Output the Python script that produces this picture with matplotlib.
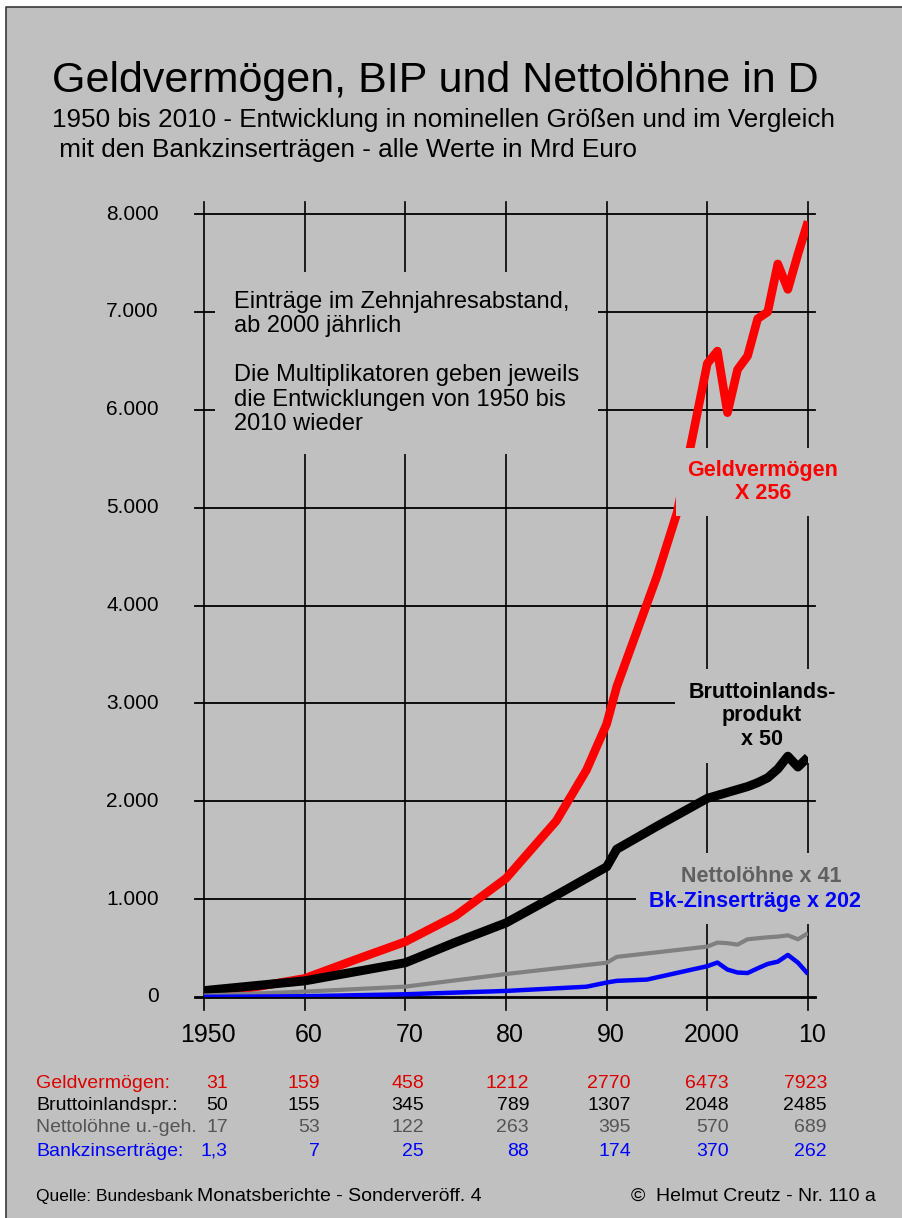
import matplotlib
matplotlib.use("Agg")
import matplotlib.pyplot as plt
from matplotlib.patches import Rectangle
from matplotlib.lines import Line2D

plt.rcParams['font.family'] = ['Liberation Sans', 'DejaVu Sans']

W, H = 903, 1218
BG = '#c0c0c0'

# Kurven (Mrd Euro)
gv_years = [1950, 1955, 1960, 1965, 1970, 1975, 1980, 1985, 1988, 1990, 1991, 1995, 1997,
            2000, 2001, 2002, 2003, 2004, 2005, 2006, 2007, 2008, 2009, 2010]
gv_values = [40, 100, 190, 380, 565, 830, 1212, 1800, 2320, 2790, 3170, 4300, 4950,
             6473, 6600, 5970, 6410, 6550, 6930, 7000, 7490, 7230, 7590, 7923]

bip_years = [1950, 1960, 1970, 1975, 1980, 1985, 1990, 1991, 1995,
             2000, 2001, 2002, 2003, 2004, 2005, 2006, 2007, 2008, 2009, 2010]
bip_values = [65, 165, 350, 560, 757, 1040, 1330, 1510, 1745,
              2030, 2060, 2090, 2120, 2150, 2190, 2240, 2330, 2460, 2350, 2450]

lohn_years = [1950, 1960, 1970, 1980, 1990, 1991,
              2000, 2001, 2002, 2003, 2004, 2005, 2006, 2007, 2008, 2009, 2010]
lohn_values = [15, 55, 106, 235, 350, 410,
               515, 556, 550, 535, 590, 600, 610, 617, 630, 590, 651]

zins_years = [1950, 1960, 1970, 1980, 1988, 1990, 1991, 1994,
              2000, 2001, 2002, 2003, 2004, 2005, 2006, 2007, 2008, 2009, 2010]
zins_values = [1, 8, 28, 62, 105, 148, 165, 178,
               315, 352, 280, 250, 245, 293, 338, 361, 430, 351, 235]

# Achsen
x_ticks = [1950, 1960, 1970, 1980, 1990, 2000, 2010]
x_labels = ['1950', '60', '70', '80', '90', '2000', '10']
y_ticks = [0, 1000, 2000, 3000, 4000, 5000, 6000, 7000, 8000]
y_labels = ['0', '1.000', '2.000', '3.000', '4.000', '5.000', '6.000', '7.000', '8.000']

# Tabelle unter der Grafik
row_names = ['Geldvermögen:', 'Bruttoinlandspr.:', 'Nettolöhne u.-geh.', 'Bankzinserträge:']
row_colors = ['#dd0000', 'black', '#555555', '#0000ff']
table_gv = ['31', '159', '458', '1212', '2770', '6473', '7923']
table_bip = ['50', '155', '345', '789', '1307', '2048', '2485']
table_lohn = ['17', '53', '122', '263', '395', '570', '689']
table_zins = ['1,3', '7', '25', '88', '174', '370', '262']
table_rows = [table_gv, table_bip, table_lohn, table_zins]


def fx(px):
    return px / W


def fy(py):
    return 1 - py / H


fig = plt.figure(figsize=(W / 100, H / 100), dpi=100)
fig.patch.set_facecolor('white')
fig.add_artist(Rectangle((fx(6), -0.01), 1.05, fy(7) + 0.01, transform=fig.transFigure,
                         facecolor=BG, edgecolor='none', zorder=-1))
fig.add_artist(Line2D([fx(6), fx(6), 1.0], [0, fy(7), fy(7)], transform=fig.transFigure,
                      color='#3a3a3a', lw=1.2, zorder=-0.5))

ax = fig.add_axes([fx(204), fy(997), (808 - 204) / W, (997 - 214) / H])
ax.set_xlim(1950, 2010)
ax.set_ylim(0, 8000)
ax.axis('off')

# Gitter
for v in y_ticks:
    ax.plot([1949.1, 2010.7], [v, v], color='black', lw=2.0 if v == 0 else 1.3,
            clip_on=False, zorder=1)
for yr in x_ticks:
    ax.plot([yr, yr], [-130, 8120], color='black', lw=1.2, clip_on=False, zorder=1)

# Linien
ax.plot(gv_years, gv_values, color='#ff0000', lw=6.2, solid_capstyle='butt', zorder=3)
ax.plot(bip_years, bip_values, color='black', lw=6.5, solid_capstyle='butt', zorder=4)
ax.plot(lohn_years, lohn_values, color='#808080', lw=3.0, solid_capstyle='butt', zorder=5)
ax.plot(zins_years, zins_values, color='#0000ff', lw=3.2, solid_capstyle='butt', zorder=6)

# Achsenbeschriftung
for v, lab in zip(y_ticks, y_labels):
    ax.text(fx(159), fy(997 - v * 783 / 8000), lab, transform=fig.transFigure,
            ha='right', va='center', fontsize=15)
for yr, lab in zip(x_ticks, x_labels):
    ax.text(fx(204 + (yr - 1950) * 604 / 60 + 4), fy(1035), lab, transform=fig.transFigure,
            ha='center', va='center', fontsize=18)

# Texte im Diagramm
ax.text(fx(234), fy(363), 'Einträge im Zehnjahresabstand,\nab 2000 jährlich\n\n'
        'Die Multiplikatoren geben jeweils\ndie Entwicklungen von 1950 bis\n2010 wieder',
        transform=fig.transFigure, ha='left', va='center', fontsize=17, linespacing=1.15,
        bbox=dict(facecolor=BG, edgecolor='none', boxstyle='square,pad=0.8'), zorder=2)

ax.text(fx(763), fy(482), 'Geldvermögen\nX 256', transform=fig.transFigure,
        ha='center', va='center', fontsize=15.5, fontweight='bold', color='#ff0000',
        linespacing=1.15, bbox=dict(facecolor=BG, edgecolor='none', boxstyle='square,pad=0.55'),
        zorder=10)
ax.text(fx(762), fy(716), 'Bruttoinlands-\nprodukt\nx 50', transform=fig.transFigure,
        ha='center', va='center', fontsize=15.5, fontweight='bold', color='black',
        linespacing=1.15, bbox=dict(facecolor=BG, edgecolor='none', boxstyle='square,pad=0.6'),
        zorder=2)

# Nettolöhne / Zinserträge: erst die Hintergründe, dann die Schrift
small_labels = [('Nettolöhne x 41', '#606060', 761, 876),
                ('Bk-Zinserträge x 202', '#0000ff', 755, 901)]
for txt, col, px_, py_ in small_labels:
    ax.text(fx(px_), fy(py_), txt, transform=fig.transFigure, ha='center', va='center',
            fontsize=15.5, fontweight='bold', color='none',
            bbox=dict(facecolor=BG, edgecolor='none', boxstyle='square,pad=0.6'), zorder=2)
for txt, col, px_, py_ in small_labels:
    ax.text(fx(px_), fy(py_), txt, transform=fig.transFigure, ha='center', va='center',
            fontsize=15.5, fontweight='bold', color=col, zorder=2.5)

# Titel
fig.text(fx(52), fy(92), 'Geldvermögen, BIP und Nettolöhne in D', fontsize=31,
         ha='left', va='baseline')
fig.text(fx(52), fy(127), '1950 bis 2010 - Entwicklung in nominellen Größen und im Vergleich',
         fontsize=18.8, ha='left', va='baseline')
fig.text(fx(52), fy(157), ' mit den Bankzinserträgen - alle Werte in Mrd Euro',
         fontsize=18.8, ha='left', va='baseline')

# Tabelle
col_right = [228, 320, 424, 529, 631, 729, 827]
row_y = [1084, 1106, 1128, 1151]
for name, color, vals, yy in zip(row_names, row_colors, table_rows, row_y):
    fig.text(fx(36), fy(yy), name, color=color, fontsize=14, ha='left', va='center')
    for xr, val in zip(col_right, vals):
        fig.text(fx(xr), fy(yy), val, color=color, fontsize=14, ha='right', va='center')

# Fusszeile
fig.text(fx(36), fy(1201), 'Quelle: Bundesbank', fontsize=12.5, ha='left', va='baseline')
fig.text(fx(197), fy(1201), 'Monatsberichte - Sonderveröff. 4', fontsize=14,
         ha='left', va='baseline')
fig.text(fx(876), fy(1201), '©  Helmut Creutz - Nr. 110 a', fontsize=14,
         ha='right', va='baseline')

fig.savefig('out.png', dpi=100, facecolor=fig.get_facecolor())
